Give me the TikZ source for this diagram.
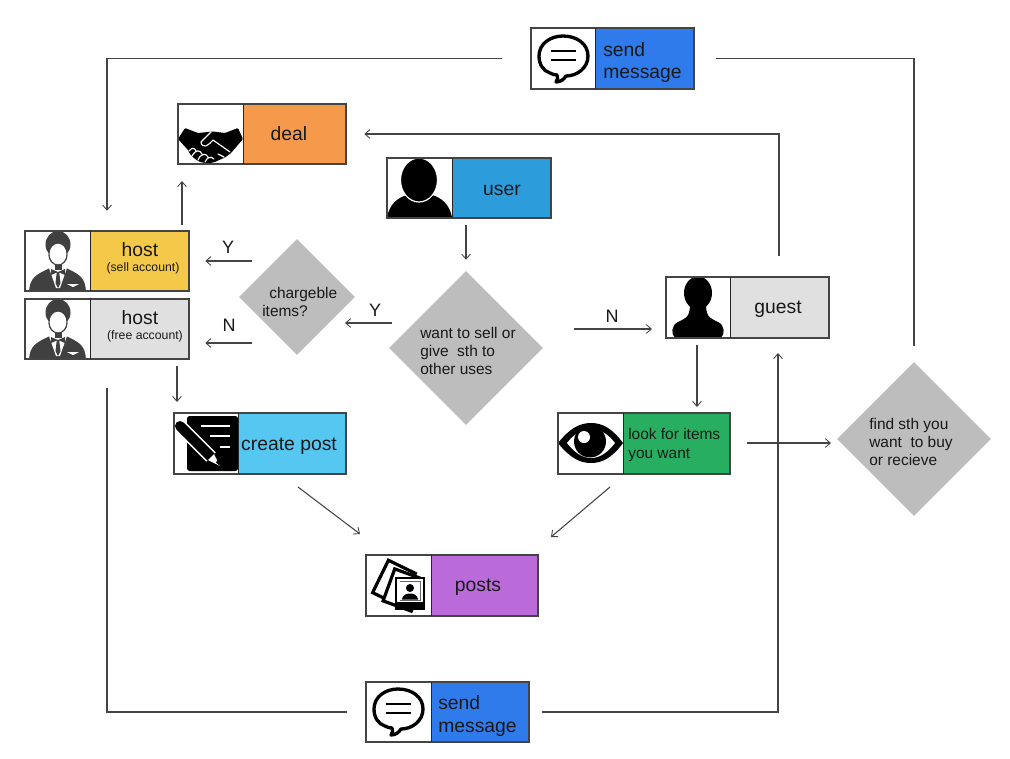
\documentclass[tikz,border=0pt]{standalone}
\usepackage{fontspec}
\setmainfont{Liberation Sans}
\usetikzlibrary{arrows.meta,shapes.geometric}
\definecolor{cblue}{HTML}{2F7BEC}
\definecolor{corange}{HTML}{F59A4A}
\definecolor{cuser}{HTML}{2D9CDB}
\definecolor{cyellow}{HTML}{F4C94A}
\definecolor{cgrey}{HTML}{E0E0E0}
\definecolor{csky}{HTML}{56C7F0}
\definecolor{cgreen}{HTML}{27AE60}
\definecolor{cpurple}{HTML}{BB6BD9}
\definecolor{cdia}{HTML}{BDBDBD}
\definecolor{cline}{HTML}{444444}
\definecolor{csuit}{HTML}{404040}
\tikzset{
  x=0.75pt,y=-0.75pt,
  conn/.style={draw=cline,line width=0.8pt},
  arr/.style={conn,-{Straight Barb[length=3.8pt,width=6.6pt,line width=0.65pt]}},
  gap/.style 2 args={shorten <={#1*0.75pt},shorten >={#2*0.75pt}},
  dia/.style={diamond,fill=cdia,inner sep=0pt,minimum width=#1*0.75pt,minimum height=#1*0.75pt},
  lbl/.style={inner sep=0pt,text=black!90,font=\fontsize{14.5}{17}\selectfont},
  lbll/.style={lbl,anchor=west,align=left},
  small/.style={inner sep=0pt,anchor=west,align=left,text=black!90,font=\fontsize{11.6}{13.6}\selectfont},
  sub/.style={inner sep=0pt,text=black!90,font=\fontsize{9.2}{11}\selectfont},
  yn/.style={inner sep=0pt,text=black!90,font=\fontsize{13.5}{16}\selectfont},
}
\newcommand{\ibox}[7]{% name x0 y0 xdiv x1 y1 colour
  \node[fill=white,inner sep=0pt,minimum width={(#5-#2)*0.75pt},minimum height={(#6-#3)*0.75pt}] (#1) at ({(#2+#5)/2},{(#3+#6)/2}) {};
  \fill[#7] (#4,#3) rectangle (#5,#6);
}
\newcommand{\iboxframe}[5]{% x0 y0 xdiv x1 y1
  \draw[cline,line width=0.9pt] (#1,#2) rectangle (#4,#5);
  \draw[black!85,line width=0.7pt] (#3,#2) -- (#3,#5);
}
\newcommand{\icbubble}[2]{\begin{scope}[shift={(#1,#2)}]
  \draw[black,line width=2.5pt,fill=white,line join=round]
    (19,44) .. controls (12,42) and (8,35) .. (8,27) .. controls (8,15) and (19,7) .. (32,7)
    .. controls (46,7) and (57,15) .. (57,27) .. controls (57,39) and (46,47) .. (35,47)
    .. controls (33,50) and (30,53) .. (25,53) .. controls (27,51) and (27,48) .. (26,46)
    .. controls (23,46) and (21,45) .. (19,44) -- cycle;
  \draw[black,line width=1.9pt] (20,22) -- (45,22) (20,31) -- (45,31);
\end{scope}}
\newcommand{\ichost}[2]{\begin{scope}[shift={(#1,#2)}]
  \fill[csuit] (4,60.5) .. controls (5,47) and (10,44) .. (25,37) -- (41,37) .. controls (56,44) and (60,47) .. (61,60.5) -- cycle;
  \fill[white] (24,37) -- (42,37) -- (35,57) -- (31,57) -- cycle;
  \fill[csuit] (33,41) -- (26,38) -- (26,44) -- cycle;
  \fill[csuit] (33,41) -- (40,38) -- (40,44) -- cycle;
  \fill[csuit] (31.8,41) -- (34.2,41) -- (35.5,52) -- (33,57) -- (30.5,52) -- cycle;
  \fill[csuit] (33,13.5) ellipse [x radius=12.5,y radius=13.5];
  \fill[csuit] (33,24) ellipse [x radius=9.6,y radius=10.5];
  \fill[csuit] (29.5,30) rectangle (36.5,39);
  \fill[white] (33,23) ellipse [x radius=8.4,y radius=10.3];
  \fill[white] (42,53) -- (54,53) -- (48,56) -- cycle;
\end{scope}}
\begin{document}
\begin{tikzpicture}
\useasboundingbox[fill=white] (0,0) rectangle (1010,758);

% diamonds
\node[dia=154] (wantq) at (466,348) {};
\node[dia=116] (chargeq) at (297,297) {};
\node[dia=154] (findq) at (914,439) {};

% boxes
\ibox{sendtop}{531}{28}{595}{694}{89}{cblue}
\ibox{deal}{178}{104}{243}{346}{164}{corange}
\ibox{user}{387}{158}{452}{551}{218}{cuser}
\ibox{hostsell}{25}{231}{90}{189}{291}{cyellow}
\ibox{hostfree}{25}{299}{90}{189}{359}{cgrey}
\ibox{create}{174}{413}{238}{346}{474}{csky}
\ibox{guest}{666}{277}{730}{829}{338}{cgrey}
\ibox{look}{558}{413}{623}{730}{474}{cgreen}
\ibox{posts}{366}{555}{431}{538}{616}{cpurple}
\ibox{sendbot}{366}{682}{431}{529}{742}{cblue}

% icons
\icbubble{531}{29}
\icbubble{366}{682}
\ichost{25}{231}
\ichost{25}{299}

% handshake
\begin{scope}[shift={(178,104)}]
  \fill[black,rounded corners=0.8pt] (7,24) -- (0,35) -- (10,46) -- (12,50) -- (17,55) -- (22,58) -- (30,59.5) -- (37,58) -- (40,56.5) -- (47,53.5) -- (53,49) -- (65,35) -- (60,24) -- (47,29) -- (35,27.5) -- (30,28) -- (20,29) -- cycle;
  \draw[white,line width=0.85pt,line join=round,line cap=round] (33,28) -- (23,38) .. controls (23,41) and (26,43) .. (28,42) .. controls (31,41) and (33,38) .. (35,36) -- (52,48);
  \draw[white,line width=0.85pt,line cap=round,line join=round]
    (11,47) .. controls (14,43) and (17,44) .. (18,47)
    (14,52) .. controls (18,45) and (22,46) .. (24,50)
    (20,56) .. controls (23,49) and (28,49) .. (30,53)
    (27,58) .. controls (29,53) and (33,52) .. (36,55)
    (40,50) -- (46,53);
\end{scope}

% user silhouette
\begin{scope}[shift={(387,158)}]
  \fill[black] (0,59) .. controls (3,46) and (10,40) .. (20,37) -- (45,37) .. controls (55,40) and (62,46) .. (65,59) -- cycle;
  \draw[white,line width=0.9pt,fill=black] (32,22) ellipse [x radius=18.5,y radius=22];
\end{scope}
% guest silhouette
\begin{scope}[shift={(666,277)}]
  \fill[black] (32,16) ellipse [x radius=14,y radius=16.5];
  \fill[black] (9,60.5) .. controls (5,58) and (5,48) .. (12,45) .. controls (17,42) and (24,42) .. (24,28) -- (40,28) .. controls (40,42) and (47,42) .. (52,45) .. controls (59,48) and (59,58) .. (55,60.5) -- cycle;
\end{scope}

% pen note
\begin{scope}[shift={(174,413)}]
  \fill[black,rounded corners=2pt] (13,3) rectangle (64,58);
  \draw[white,line width=1.9pt] (27,13) -- (56,13) (36,23) -- (56,23) (46,34) -- (56,34);
  \draw[white,line width=10pt] (6,13) -- (37,44);
  \draw[black,line width=7.5pt,line cap=round] (6,13) -- (37,44);
  \fill[white] (34,47) -- (40,41) -- (46,53) -- cycle;
  \fill[black] (42,49.5) -- (43.5,47) -- (46,53) -- cycle;
\end{scope}

% eye
\begin{scope}[shift={(558,413)}]
  \fill[black] (0,30) .. controls (12,15) and (22,10) .. (33,10) .. controls (44,10) and (54,15) .. (65,30) .. controls (54,45) and (44,50) .. (33,50) .. controls (22,50) and (12,45) .. (0,30) -- cycle;
  \fill[white] (9,30) .. controls (16,21) and (24,16) .. (33,16) .. controls (42,16) and (50,21) .. (57,30) .. controls (50,39) and (42,45) .. (33,45) .. controls (24,45) and (16,39) .. (9,30) -- cycle;
  \fill[black] (32,28.5) circle [radius=16];
  \fill[white] (26,24) circle [radius=6];
\end{scope}

% photos
\begin{scope}[shift={(366,555)}]
  \begin{scope}[rotate around={-26:(28,28)}]
    \draw[black,line width=2.4pt,fill=white] (13,10) rectangle (43,46);
  \end{scope}
  \begin{scope}[rotate around={-20:(37,35)}]
    \draw[black,line width=2.4pt,fill=white] (22,18) rectangle (52,52);
  \end{scope}
  \fill[black] (29,22) rectangle (59,55);
  \fill[white] (31,24) rectangle (57,47);
  \fill[black!60] (33.5,26) rectangle (54.5,45.5);
  \fill[white] (34.2,26.7) rectangle (53.8,44.8);
  \fill[black] (44,33) circle [radius=4];
  \fill[black] (36,44.5) .. controls (36.5,40) and (40,38.5) .. (44,38.5) .. controls (48,38.5) and (51.5,40) .. (52,44.5) -- cycle;
\end{scope}

% frames
\iboxframe{531}{28}{595}{694}{89}
\iboxframe{178}{104}{243}{346}{164}
\iboxframe{387}{158}{452}{551}{218}
\iboxframe{25}{231}{90}{189}{291}
\iboxframe{25}{299}{90}{189}{359}
\iboxframe{174}{413}{238}{346}{474}
\iboxframe{666}{277}{730}{829}{338}
\iboxframe{558}{413}{623}{730}{474}
\iboxframe{366}{555}{431}{538}{616}
\iboxframe{366}{682}{431}{529}{742}

% box labels
\node[lbll] (sendtopt) at (603,62.5) {send\\message};
\node[lbl] (dealt) at (289,134) {deal};
\node[lbl] (usert) at (502,190) {user};
\node[lbl] (hostsellt) at (140,250) {host};
\node[sub] (hostsells) at (143,268) {(sell account)};
\node[lbl] (hostfreet) at (140,318) {host};
\node[sub] (hostfrees) at (145,336) {(free account)};
\node[lbl] (createt) at (289,446) {create post};
\node[lbl] (guestt) at (778,309) {guest};
\node[small] (lookt) at (628,445) {look for items\\you want};
\node[lbl] (postst) at (478,587) {posts};
\node[lbll] (sendbott) at (438,716) {send\\message};

% diamond labels
\node[small] (wantqt) at (420,351) {want to sell or\\give\ \ sth to\\other uses};
\node[small] (chargeqa) at (269,294) {chargeble};
\node[small] (chargeqb) at (262,311) {items?};
\node[small] (findqt) at (869,442) {find sth you\\want\ \ to buy\\or recieve};

% Y / N
\node[yn] (ya) at (228,247) {Y};
\node[yn] (na) at (229,325) {N};
\node[yn] (yb) at (375,310) {Y};
\node[yn] (nb) at (612,316) {N};

% connector ports
\coordinate (guesttop) at (779,277);
\coordinate (sellup) at (182,231);
\coordinate (dealdown) at (182,164);
\coordinate (chargea) at (252,261);
\coordinate (chargeb) at (252,343);
\coordinate (wantl) at (392,323);
\coordinate (chargein) at (345,323);
\coordinate (wantr) at (574,329);
\coordinate (guestin) at (652,329);
\coordinate (freedown) at (177,366);
\coordinate (createin) at (177,402);
\coordinate (createout) at (298,487);
\coordinate (postsa) at (360,534);
\coordinate (lookout) at (610,487);
\coordinate (postsb) at (551,537);
\coordinate (guestdown) at (697,338);
\coordinate (lookin) at (697,413);
\coordinate (lookr) at (747,443);
\coordinate (findin) at (831,443);
\coordinate (leftend) at (107,388);
\coordinate (guestbot) at (778,338);

% connectors
\draw[arr,gap={29}{20}] (sendtop.west) -| (hostsell.north);
\draw[conn,gap={22}{16}] (sendtop.east) -| (findq.north);
\draw[arr,gap={21}{18}] (guesttop) |- (deal.east);
\draw[arr,gap={6}{17}] (sellup) -- (dealdown);
\draw[arr,gap={7}{11}] (user.south -| wantq.north) -- (wantq.north);
\draw[arr,gap={0}{16}] (chargea) -- (hostsell.east);
\draw[arr,gap={0}{16}] (chargeb) -- (hostfree.east |- chargeb);
\draw[arr] (wantl) -- (chargein);
\draw[arr] (wantr) -- (guestin);
\draw[arr] (freedown) -- (createin);
\draw[arr] (createout) -- (postsa);
\draw[arr] (lookout) -- (postsb);
\draw[arr,gap={7}{6}] (guestdown) -- (lookin);
\draw[arr] (lookr) -- (findin);
\draw[conn,gap={19}{0}] (sendbot.west) -| (leftend);
\draw[arr,gap={13}{15}] (sendbot.east) -| (guestbot);
\end{tikzpicture}
\end{document}
